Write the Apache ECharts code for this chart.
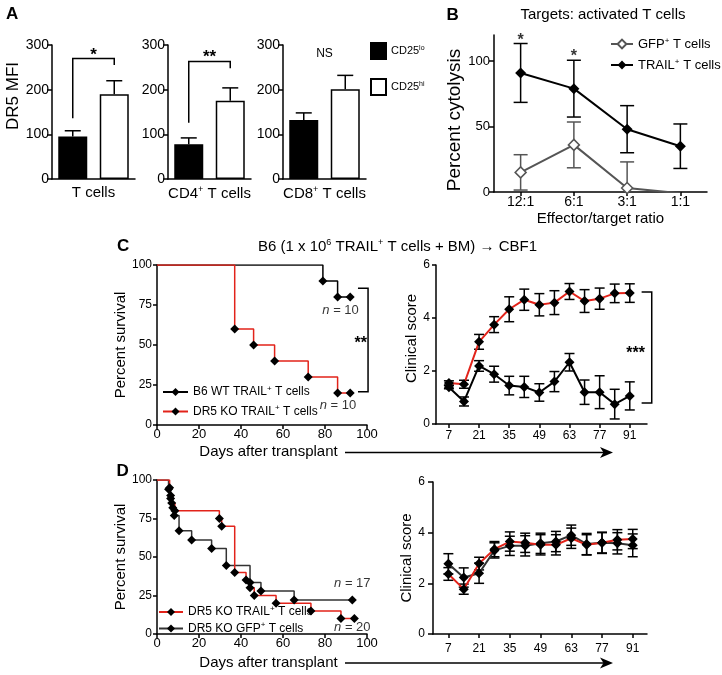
<!DOCTYPE html>
<html>
<head>
<meta charset="utf-8">
<script src="https://cdn.jsdelivr.net/npm/echarts@6/dist/echarts.min.js"></script>
<style>html,body{margin:0;padding:0;background:#fff}#c{width:722px;height:675px}</style>
</head>
<body>
<div id="c"></div>
<script>
// ---------------- data ----------------
// Panel A: DR5 MFI
const aGroups = ['T cells', 'CD4+ T cells', 'CD8+ T cells'];
const aSubsets = ['CD25lo', 'CD25hi'];
const aLoMean = [95, 78, 132];
const aLoSem = [13, 14, 16];
const aHiMean = [190, 175, 201];
const aHiSem = [30, 29, 31];
const aSignif = ['*', '**', 'NS'];

// Panel B: cytolysis
const bRatios = ['12:1', '6:1', '3:1', '1:1'];
const bTrail = [91, 79, 48, 35];
const bTrailSem = [22.5, 21.7, 18, 17];
const bGfp = [15, 36, 3, -1];
const bGfpSem = [13.5, 17.5, 20, 0];
const bTicks = [0, 50, 100];

// Panel C: survival
const cWtDays = [0, 79, 86, 92];
const cWtSurv = [100, 90, 80, 80];
const cKoDays = [0, 37, 46, 56, 72, 86, 92];
const cKoSurv = [100, 60, 50, 40, 30, 20, 20];
// Panel C: clinical score
const scoreDays = [7, 14, 21, 28, 35, 42, 49, 56, 63, 70, 77, 84, 91];
const scoreTicks = [7, 21, 35, 49, 63, 77, 91];
const cKoScore = [1.55, 1.5, 3.1, 3.75, 4.33, 4.69, 4.5, 4.58, 5.0, 4.64, 4.73, 4.93, 4.94];
const cKoSem = [0.08, 0.15, 0.28, 0.3, 0.47, 0.4, 0.42, 0.45, 0.3, 0.43, 0.4, 0.35, 0.35];
const cWtScore = [1.39, 0.85, 2.19, 1.88, 1.45, 1.4, 1.19, 1.6, 2.33, 1.2, 1.2, 0.75, 1.06];
const cWtSem = [0.06, 0.17, 0.2, 0.3, 0.35, 0.4, 0.33, 0.38, 0.33, 0.46, 0.62, 0.56, 0.53];

// Panel D: survival
const dTrailDays = [0, 6, 6.5, 7, 8.5, 29.7, 30.8, 37, 42.4, 44.3, 46.3, 56.7, 73.3, 87.6, 94];
const dTrailSurv = [100, 95, 90, 85, 80, 75, 70, 40, 35, 30, 25, 20, 15, 10, 10];
const dGfpDays = [0, 5.5, 6.5, 7.5, 8.2, 10.5, 16.5, 26, 33, 44.3, 49.5, 65.3, 93];
const dGfpSurv = [100, 94, 88, 82, 77, 67, 61, 55.5, 44.5, 33.5, 28, 22, 22];
// Panel D: clinical score
const dTrailScore = [2.37, 1.77, 2.78, 3.35, 3.65, 3.6, 3.52, 3.52, 3.78, 3.52, 3.6, 3.72, 3.75];
const dTrailSem = [0.25, 0.2, 0.25, 0.3, 0.38, 0.38, 0.4, 0.4, 0.4, 0.4, 0.4, 0.4, 0.38];
const dGfpScore = [2.77, 2.23, 2.4, 3.3, 3.48, 3.48, 3.58, 3.65, 3.9, 3.55, 3.6, 3.58, 3.5];
const dGfpSem = [0.4, 0.38, 0.4, 0.3, 0.38, 0.4, 0.4, 0.4, 0.4, 0.42, 0.42, 0.42, 0.45];

// ---------------- styling helpers ----------------
const FONT = '"Liberation Sans", Arial, Helvetica, sans-serif';
const RED = '#e2231a';
const GREY = '#555';
const DKGREY = '#333';
const SUP = { s: { fontSize: 9, padding: [0, 0, 8, 0], fontFamily: FONT, color: '#000' },
              i: { fontStyle: 'italic', fontFamily: FONT, color: '#000' } };
const sup = s => s.replace(/\+/g, '{s|+}');
const LINE = { show: true, onZero: false, lineStyle: { color: '#000', width: 1.5 } };
const tick = (len, extra) => Object.assign({ show: true, length: len, lineStyle: { color: '#000', width: 1.5 } }, extra || {});
const lbl = (size, margin, extra) => Object.assign({ fontSize: size, margin: margin, color: '#000', fontFamily: FONT }, extra || {});
const nameStyle = (size, extra) => Object.assign({ fontSize: size, color: '#000', fontFamily: FONT, rich: SUP }, extra || {});
const noSplit = { show: false };

function pairs(xs, ys, hideFirst) {
  return xs.map((x, k) => (hideFirst && k === 0) ? { value: [x, ys[k]], symbol: 'none' } : [x, ys[k]]);
}
function triples(xs, ys, es) { return xs.map((x, k) => [x, ys[k], es[k]]); }

function errBoth(color, hw) {
  return function (params, api) {
    const x = api.value(0), m = api.value(1), e = api.value(2);
    if (!(e > 0)) return null;
    const t = api.coord([x, m + e]), b = api.coord([x, m - e]);
    const st = { stroke: color, lineWidth: 1.5 };
    return { type: 'group', children: [
      { type: 'line', shape: { x1: t[0], y1: t[1], x2: b[0], y2: b[1] }, style: st },
      { type: 'line', shape: { x1: t[0] - hw, y1: t[1], x2: t[0] + hw, y2: t[1] }, style: st },
      { type: 'line', shape: { x1: b[0] - hw, y1: b[1], x2: b[0] + hw, y2: b[1] }, style: st }
    ] };
  };
}
function errUp(params, api) {
  const x = api.value(0), m = api.value(1), e = api.value(2);
  const b = api.coord([x, m]), t = api.coord([x, m + e]);
  const st = { stroke: '#000', lineWidth: 1.5 };
  return { type: 'group', children: [
    { type: 'line', shape: { x1: b[0], y1: b[1], x2: t[0], y2: t[1] }, style: st },
    { type: 'line', shape: { x1: t[0] - 8, y1: t[1], x2: t[0] + 8, y2: t[1] }, style: st }
  ] };
}
// significance bracket between the two bars of a panel-A subplot (left leg, top, right leg, label level)
const aBracketGeom = [[136, 270, 255, 276], [126, 263, 248, 273], [null, null, null, 280]];
function aSigRenderer(i) {
  return function (params, api) {
    const g = aBracketGeom[i];
    const ch = [];
    const xl = api.coord([0, 0])[0], xr = api.coord([1, 0])[0];
    if (g[0] != null) {
      const yl = api.coord([0, g[0]])[1], yt = api.coord([0, g[1]])[1], yr = api.coord([0, g[2]])[1];
      ch.push({ type: 'polyline', shape: { points: [[xl, yl], [xl, yt], [xr, yt], [xr, yr]] },
        style: { stroke: '#000', lineWidth: 1.5, fill: null } });
    }
    const isNS = aSignif[i] === 'NS';
    ch.push({ type: 'text', x: (xl + xr) / 2, y: api.coord([0, g[3]])[1],
      style: { text: aSignif[i], fontSize: isNS ? 12 : 17, fontWeight: isNS ? 'normal' : 'bold', fontFamily: FONT, fill: '#000', align: 'center', verticalAlign: 'middle' } });
    return { type: 'group', children: ch };
  };
}
// right-side bracket for C panels
function sideBracket(text, fs) {
  return function (params, api) {
    const x1 = api.value(0), x2 = api.value(1), yt = api.value(2), yb = api.value(3);
    const a = api.coord([x1, yt]), b = api.coord([x2, yt]), c = api.coord([x2, yb]), d = api.coord([x1, yb]);
    const p = api.coord([api.value(4), api.value(5)]);
    return { type: 'group', children: [
      { type: 'polyline', shape: { points: [a, b, c, d] }, style: { stroke: '#000', lineWidth: 1.5, fill: null } },
      { type: 'text', x: p[0], y: p[1], style: { text: text, fontSize: fs, fontWeight: 'bold', fontFamily: FONT, fill: '#000', align: 'center', verticalAlign: 'middle' } }
    ] };
  };
}
function textMarks(xi, yi, pts, fmt, fs, bold) {
  return { type: 'scatter', xAxisIndex: xi, yAxisIndex: yi, silent: true, symbolSize: 1,
    itemStyle: { color: 'rgba(0,0,0,0)' }, data: pts, z: 10,
    label: { show: true, position: 'inside', formatter: fmt, fontSize: fs, fontWeight: bold ? 'bold' : 'normal',
      color: '#000', fontFamily: FONT,
      rich: { i: { fontStyle: 'italic', fontSize: fs, fontFamily: FONT, color: '#000' } } } };
}

// ---------------- layout ----------------
const grids = [
  { left: 52, top: 45, width: 83, height: 134 },
  { left: 168, top: 45, width: 83, height: 134 },
  { left: 283, top: 45, width: 83, height: 134 },
  { left: 494, top: 35, width: 213, height: 157 },
  { left: 157, top: 265, width: 210, height: 160 },
  { left: 436, top: 265, width: 211, height: 159 },
  { left: 157, top: 480, width: 210, height: 154 },
  { left: 433, top: 482, width: 214, height: 152 }
];

const xAxis = [], yAxis = [];
for (let i = 0; i < 3; i++) {
  xAxis.push({ gridIndex: i, type: 'category', data: aSubsets, axisLine: LINE, axisTick: { show: false },
    axisLabel: { show: false }, name: sup(aGroups[i]), nameLocation: 'middle', nameGap: 6,
    nameTextStyle: nameStyle(15) });
  yAxis.push(Object.assign({ gridIndex: i, type: 'value', min: 0, max: 300, interval: 100, axisLine: LINE,
    axisTick: tick(5), axisLabel: lbl(14, 3), splitLine: noSplit },
    i === 0 ? { name: 'DR5 MFI', nameLocation: 'middle', nameGap: 23, nameTextStyle: nameStyle(17, { padding: [0, 0, 0, 32] }) } : {}));
}
xAxis.push({ gridIndex: 3, type: 'category', data: bRatios, boundaryGap: true, axisLine: LINE,
  axisTick: tick(4, { alignWithLabel: true }), axisLabel: lbl(14, 3),
  name: 'Effector/target ratio', nameLocation: 'middle', nameGap: 19, nameTextStyle: nameStyle(15) });
yAxis.push({ gridIndex: 3, type: 'value', min: 0, max: 120, axisLine: LINE,
  axisTick: tick(5, { customValues: bTicks }), axisLabel: lbl(13, 4, { customValues: bTicks }), splitLine: noSplit,
  name: 'Percent cytolysis', nameLocation: 'middle', nameGap: 21, nameTextStyle: nameStyle(19, { padding: [0, 13, 0, 0] }) });
// C left
xAxis.push({ gridIndex: 4, type: 'value', min: 0, max: 100, interval: 20, axisLine: LINE, axisTick: tick(4),
  axisLabel: lbl(13, 3), splitLine: noSplit });
yAxis.push({ gridIndex: 4, type: 'value', min: 0, max: 100, interval: 25, axisLine: LINE, axisTick: tick(4),
  axisLabel: lbl(12, 5), splitLine: noSplit,
  name: 'Percent survival', nameLocation: 'middle', nameGap: 24, nameTextStyle: nameStyle(15) });
// C right
xAxis.push({ gridIndex: 5, type: 'value', min: 1, max: 99, axisLine: LINE,
  axisTick: tick(4, { customValues: scoreTicks }), axisLabel: lbl(12, 6, { customValues: scoreTicks }), splitLine: noSplit });
yAxis.push({ gridIndex: 5, type: 'value', min: 0, max: 6, interval: 2, axisLine: LINE, axisTick: tick(4),
  axisLabel: lbl(12, 6), splitLine: noSplit,
  name: 'Clinical score', nameLocation: 'middle', nameGap: 12, nameTextStyle: nameStyle(15, { padding: [0, 0, 0, 12] }) });
// D left
xAxis.push({ gridIndex: 6, type: 'value', min: 0, max: 100, interval: 20, axisLine: LINE, axisTick: tick(4),
  axisLabel: lbl(13, 3), splitLine: noSplit });
yAxis.push({ gridIndex: 6, type: 'value', min: 0, max: 100, interval: 25, axisLine: LINE, axisTick: tick(4),
  axisLabel: lbl(12, 5), splitLine: noSplit,
  name: 'Percent survival', nameLocation: 'middle', nameGap: 23, nameTextStyle: nameStyle(15) });
// D right
xAxis.push({ gridIndex: 7, type: 'value', min: 0, max: 97.5, axisLine: LINE,
  axisTick: tick(4, { customValues: scoreTicks }), axisLabel: lbl(12, 9, { customValues: scoreTicks }), splitLine: noSplit });
yAxis.push({ gridIndex: 7, type: 'value', min: 0, max: 6, interval: 2, axisLine: LINE, axisTick: tick(5),
  axisLabel: lbl(12, 8), splitLine: noSplit,
  name: 'Clinical score', nameLocation: 'middle', nameGap: 10, nameTextStyle: nameStyle(15) });

// ---------------- series ----------------
const series = [];
for (let i = 0; i < 3; i++) {
  series.push({ type: 'bar', name: aSubsets[0], xAxisIndex: i, yAxisIndex: i, data: [aLoMean[i], '-'],
    barWidth: 29, barGap: '-100%', itemStyle: { color: '#000', borderColor: '#000', borderWidth: 1.5 } });
  series.push({ type: 'bar', name: aSubsets[1], xAxisIndex: i, yAxisIndex: i, data: ['-', aHiMean[i]],
    barWidth: 29, barGap: '-100%', itemStyle: { color: '#fff', borderColor: '#000', borderWidth: 1.5 } });
  series.push({ type: 'custom', xAxisIndex: i, yAxisIndex: i, renderItem: errUp, z: 3, silent: true,
    data: [[aSubsets[0], aLoMean[i], aLoSem[i]], [aSubsets[1], aHiMean[i], aHiSem[i]]] });
  series.push({ type: 'custom', xAxisIndex: i, yAxisIndex: i, renderItem: aSigRenderer(i), z: 3, silent: true,
    data: [[aSubsets[0], 0]] });
}
// B
series.push({ type: 'custom', xAxisIndex: 3, yAxisIndex: 3, renderItem: errBoth(GREY, 7), clip: true, z: 2, silent: true,
  data: triples(bRatios, bGfp, bGfpSem) });
series.push({ type: 'custom', xAxisIndex: 3, yAxisIndex: 3, renderItem: errBoth('#000', 7), clip: true, z: 2, silent: true,
  data: triples(bRatios, bTrail, bTrailSem) });
series.push({ type: 'line', name: 'GFP+ T cells', xAxisIndex: 3, yAxisIndex: 3,
  data: bGfp.map((v, k) => k === bGfp.length - 1 ? { value: v, symbol: 'none' } : v),
  symbol: 'diamond', symbolSize: 11, showAllSymbol: true, clip: true,
  lineStyle: { color: GREY, width: 2 }, itemStyle: { color: '#fff', borderColor: GREY, borderWidth: 1.5 }, z: 4 });
series.push({ type: 'line', name: 'TRAIL+ T cells', xAxisIndex: 3, yAxisIndex: 3, data: bTrail,
  symbol: 'diamond', symbolSize: 11, lineStyle: { color: '#000', width: 2 }, itemStyle: { color: '#000' }, z: 5 });
series.push(textMarks(3, 3, [[bRatios[0], 115.4], [bRatios[1], 103.2]], '*', 16, true));
// C left survival
series.push({ type: 'line', name: 'B6 WT TRAIL+ T cells', xAxisIndex: 4, yAxisIndex: 4, step: 'end',
  data: pairs(cWtDays, cWtSurv, true), symbol: 'diamond', symbolSize: 9,
  lineStyle: { color: '#000', width: 1.5 }, itemStyle: { color: '#000' }, z: 4 });
series.push({ type: 'line', name: 'DR5 KO TRAIL+ T cells', xAxisIndex: 4, yAxisIndex: 4, step: 'end',
  data: pairs(cKoDays, cKoSurv, true), symbol: 'diamond', symbolSize: 9,
  lineStyle: { color: RED, width: 1.5 }, itemStyle: { color: '#000' }, z: 4 });
series.push({ type: 'custom', xAxisIndex: 4, yAxisIndex: 4, renderItem: sideBracket('**', 16), silent: true,
  encode: { x: [0, 1, 4], y: [2, 3, 5] }, data: [[95.7, 100.5, 85.4, 20.8, 97, 51]] });
series.push(textMarks(4, 4, [[87.4, 71.9], [86.2, 12.5]], '{i|n} = 10', 13));
// C right clinical score
series.push({ type: 'custom', xAxisIndex: 5, yAxisIndex: 5, renderItem: errBoth('#000', 5), z: 2, silent: true,
  data: triples(scoreDays, cKoScore, cKoSem) });
series.push({ type: 'custom', xAxisIndex: 5, yAxisIndex: 5, renderItem: errBoth('#000', 5), z: 2, silent: true,
  data: triples(scoreDays, cWtScore, cWtSem) });
series.push({ type: 'line', name: 'C KO score', xAxisIndex: 5, yAxisIndex: 5, data: pairs(scoreDays, cKoScore),
  symbol: 'diamond', symbolSize: 10, lineStyle: { color: RED, width: 2 }, itemStyle: { color: '#000' }, z: 4 });
series.push({ type: 'line', name: 'C WT score', xAxisIndex: 5, yAxisIndex: 5, data: pairs(scoreDays, cWtScore),
  symbol: 'diamond', symbolSize: 10, lineStyle: { color: '#000', width: 2 }, itemStyle: { color: '#000' }, z: 4 });
series.push({ type: 'custom', xAxisIndex: 5, yAxisIndex: 5, renderItem: sideBracket('***', 16), silent: true,
  encode: { x: [0, 1, 4], y: [2, 3, 5] }, data: [[96.5, 101.2, 4.98, 0.79, 93.7, 2.66]] });
// D left survival
series.push({ type: 'line', name: 'DR5 KO GFP+ T cells', xAxisIndex: 6, yAxisIndex: 6, step: 'end',
  data: pairs(dGfpDays, dGfpSurv, true), symbol: 'diamond', symbolSize: 9,
  lineStyle: { color: DKGREY, width: 1.5 }, itemStyle: { color: '#000' }, z: 4 });
series.push({ type: 'line', name: 'DR5 KO TRAIL+ T cells', xAxisIndex: 6, yAxisIndex: 6, step: 'end',
  data: pairs(dTrailDays, dTrailSurv, true), symbol: 'diamond', symbolSize: 9,
  lineStyle: { color: RED, width: 1.5 }, itemStyle: { color: '#000' }, z: 4 });
series.push(textMarks(6, 6, [[93, 32.8]], '{i|n} = 17', 13));
series.push(textMarks(6, 6, [[93, 4.5]], '{i|n} = 20', 13));
// D right clinical score
series.push({ type: 'custom', xAxisIndex: 7, yAxisIndex: 7, renderItem: errBoth('#000', 5), z: 2, silent: true,
  data: triples(scoreDays, dGfpScore, dGfpSem) });
series.push({ type: 'custom', xAxisIndex: 7, yAxisIndex: 7, renderItem: errBoth('#000', 5), z: 2, silent: true,
  data: triples(scoreDays, dTrailScore, dTrailSem) });
series.push({ type: 'line', name: 'D GFP score', xAxisIndex: 7, yAxisIndex: 7, data: pairs(scoreDays, dGfpScore),
  symbol: 'diamond', symbolSize: 10, lineStyle: { color: DKGREY, width: 2 }, itemStyle: { color: '#000' }, z: 4 });
series.push({ type: 'line', name: 'D TRAIL score', xAxisIndex: 7, yAxisIndex: 7, data: pairs(scoreDays, dTrailScore),
  symbol: 'diamond', symbolSize: 10, lineStyle: { color: RED, width: 2 }, itemStyle: { color: '#000' }, z: 4 });

// ---------------- legends ----------------
const legText = size => ({ fontSize: size, color: '#000', fontFamily: FONT,
  rich: { s: { fontSize: Math.round(size * 0.65), padding: [0, 0, Math.round(size * 0.55), 0], fontFamily: FONT, color: '#000' } } });
const legend = [
  { left: 370, top: 42, padding: 0, orient: 'vertical', icon: 'rect', itemWidth: 15, itemHeight: 16, itemGap: 18,
    data: aSubsets, selectedMode: false,
    formatter: n => 'CD25{s|' + n.slice(4) + '}', textStyle: legText(11) },
  { left: 610, top: 36.5, padding: 0, orient: 'vertical', itemWidth: 22, itemHeight: 11, itemGap: 7, selectedMode: false,
    data: ['GFP+ T cells', 'TRAIL+ T cells'], formatter: sup, textStyle: legText(13) },
  { left: 162, top: 384.5, padding: 0, orient: 'vertical', itemWidth: 25, itemHeight: 10, itemGap: 6, selectedMode: false,
    data: ['B6 WT TRAIL+ T cells', 'DR5 KO TRAIL+ T cells'], formatter: sup, textStyle: legText(12) },
  { left: 158, top: 604.5, padding: 0, orient: 'vertical', itemWidth: 24, itemHeight: 10, itemGap: 3, selectedMode: false,
    data: ['DR5 KO TRAIL+ T cells', 'DR5 KO GFP+ T cells'], formatter: sup, textStyle: legText(12) }
];

// ---------------- annotations ----------------
const T = (x, y, text, size, extra) => ({ type: 'text', x: x, y: y, silent: true,
  style: Object.assign({ text: text, fontSize: size, fontFamily: FONT, fill: '#000', align: 'left', verticalAlign: 'middle', rich: SUP }, extra || {}) });
const arrow = y => ([
  { type: 'line', silent: true, shape: { x1: 345, y1: y, x2: 606, y2: y }, style: { stroke: '#000', lineWidth: 1.5 } },
  { type: 'polygon', silent: true, shape: { points: [[600, y - 5.5], [613, y], [600, y + 5.5], [603.5, y]] }, style: { fill: '#000' } }
]);
const graphic = [
  T(6, 14.5, 'A', 17, { fontWeight: 'bold' }),
  T(446.5, 15, 'B', 17, { fontWeight: 'bold' }),
  T(117, 246, 'C', 17, { fontWeight: 'bold' }),
  T(116.5, 471, 'D', 17, { fontWeight: 'bold' }),
  T(603, 15, 'Targets: activated T cells', 15, { align: 'center' }),
  T(397.5, 247, 'B6 (1 x 10{s|6} TRAIL{s|+} T cells + BM) \u2192 CBF1', 15, { align: 'center' }),
  T(268.5, 452, 'Days after transplant', 15, { align: 'center' }),
  T(268.5, 663, 'Days after transplant', 15, { align: 'center' })
].concat(arrow(452.5), arrow(663));

const chart = echarts.init(document.getElementById('c'), null, { renderer: 'canvas' });
chart.setOption({
  animation: false,
  backgroundColor: '#fff',
  textStyle: { fontFamily: FONT },
  grid: grids,
  xAxis: xAxis,
  yAxis: yAxis,
  legend: legend,
  series: series,
  graphic: graphic
});
</script>
</body>
</html>
